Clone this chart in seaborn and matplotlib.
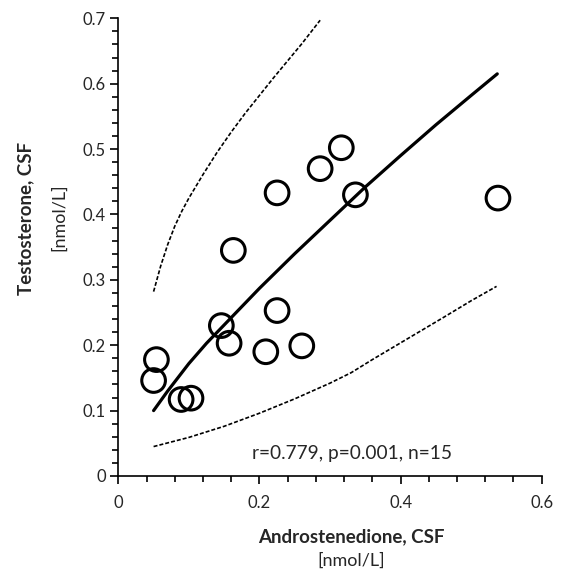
import matplotlib
matplotlib.use("Agg")
import matplotlib.pyplot as plt
import seaborn as sns
from matplotlib.ticker import MultipleLocator, FixedFormatter, FixedLocator

sns.set_style("ticks")
plt.rcParams["font.family"] = ["Lato", "DejaVu Sans"]

# ---- data ----
andro = [0.050, 0.054, 0.089, 0.103, 0.146, 0.157, 0.163, 0.209, 0.225, 0.225, 0.260, 0.286, 0.316, 0.336, 0.538]
testo = [0.146, 0.178, 0.117, 0.119, 0.230, 0.203, 0.345, 0.190, 0.433, 0.253, 0.199, 0.470, 0.502, 0.430, 0.425]

# regression curve
fit_x = [0.050, 0.060, 0.070, 0.080, 0.090, 0.100, 0.125, 0.150, 0.175, 0.200, 0.250,
         0.300, 0.350, 0.400, 0.450, 0.500, 0.537]
fit_y = [0.100, 0.115, 0.130, 0.144, 0.158, 0.172, 0.203, 0.231, 0.259, 0.287, 0.340,
         0.391, 0.442, 0.490, 0.537, 0.582, 0.615]

# confidence band, upper / lower
upper_x = [0.050, 0.060, 0.070, 0.080, 0.090, 0.100, 0.120, 0.140, 0.160, 0.180,
           0.200, 0.220, 0.240, 0.260, 0.286]
upper_y = [0.282, 0.321, 0.354, 0.382, 0.405, 0.425, 0.461, 0.495, 0.526, 0.555,
           0.582, 0.609, 0.635, 0.661, 0.697]
lower_x = [0.050, 0.100, 0.150, 0.200, 0.250, 0.300, 0.330, 0.360, 0.410, 0.460, 0.500, 0.536]
lower_y = [0.045, 0.059, 0.076, 0.096, 0.118, 0.142, 0.158, 0.178, 0.210, 0.242, 0.268, 0.290]

x_ticks = [0, 0.2, 0.4, 0.6]
x_labels = ["0", "0.2", "0.4", "0.6"]
y_ticks = [0, 0.1, 0.2, 0.3, 0.4, 0.5, 0.6, 0.7]
y_labels = ["0", "0.1", "0.2", "0.3", "0.4", "0.5", "0.6", "0.7"]

fig = plt.figure(figsize=(5.65, 5.75), dpi=100)
ax = fig.add_axes([0.2094, 0.1722, 0.7494, 0.796])

band_style = dict(color="black", linewidth=1.2, linestyle=(0, (2.4, 1.2)), ax=ax, sort=False)
sns.lineplot(x=upper_x, y=upper_y, **band_style)
sns.lineplot(x=lower_x, y=lower_y, **band_style)
sns.lineplot(x=fit_x, y=fit_y, color="black", linewidth=2.3, ax=ax, sort=False)

sns.scatterplot(
    x=andro, y=testo, ax=ax,
    s=290, marker="o", facecolor="none", edgecolor="black", linewidth=2.2,
    zorder=3
)

ax.set_xlim(0, 0.6)
ax.set_ylim(0, 0.7)

ax.xaxis.set_major_locator(FixedLocator(x_ticks))
ax.xaxis.set_major_formatter(FixedFormatter(x_labels))
ax.xaxis.set_minor_locator(MultipleLocator(0.04))
ax.yaxis.set_major_locator(FixedLocator(y_ticks))
ax.yaxis.set_major_formatter(FixedFormatter(y_labels))
ax.yaxis.set_minor_locator(MultipleLocator(0.02))

ax.tick_params(which="major", direction="out", length=6, width=1.2, labelsize=12, color="black")
ax.tick_params(which="minor", direction="out", length=4.5, width=1.2, color="black")
ax.tick_params(axis="x", which="major", pad=8)
ax.tick_params(axis="y", which="major", pad=3)

sns.despine(ax=ax)
for side in ["left", "bottom"]:
    ax.spines[side].set_linewidth(1.2)
    ax.spines[side].set_color("black")

ax.text(0.331, 0.035, "r=0.779, p=0.001, n=15", ha="center", va="center", fontsize=13.8)

fig.text(351 / 565, 1 - 537 / 575, "Androstenedione, CSF", ha="center", va="center", fontsize=13.5, weight="bold")
fig.text(351 / 565, 1 - 561 / 575, "[nmol/L]", ha="center", va="center", fontsize=13)
fig.text(26 / 565, 1 - 218 / 575, "Testosterone, CSF", ha="center", va="center", rotation=90, fontsize=13.5, weight="bold")
fig.text(59 / 565, 1 - 217 / 575, "[nmol/L]", ha="center", va="center", rotation=90, fontsize=13)

fig.savefig("out.png", dpi=100)
plt.close()
